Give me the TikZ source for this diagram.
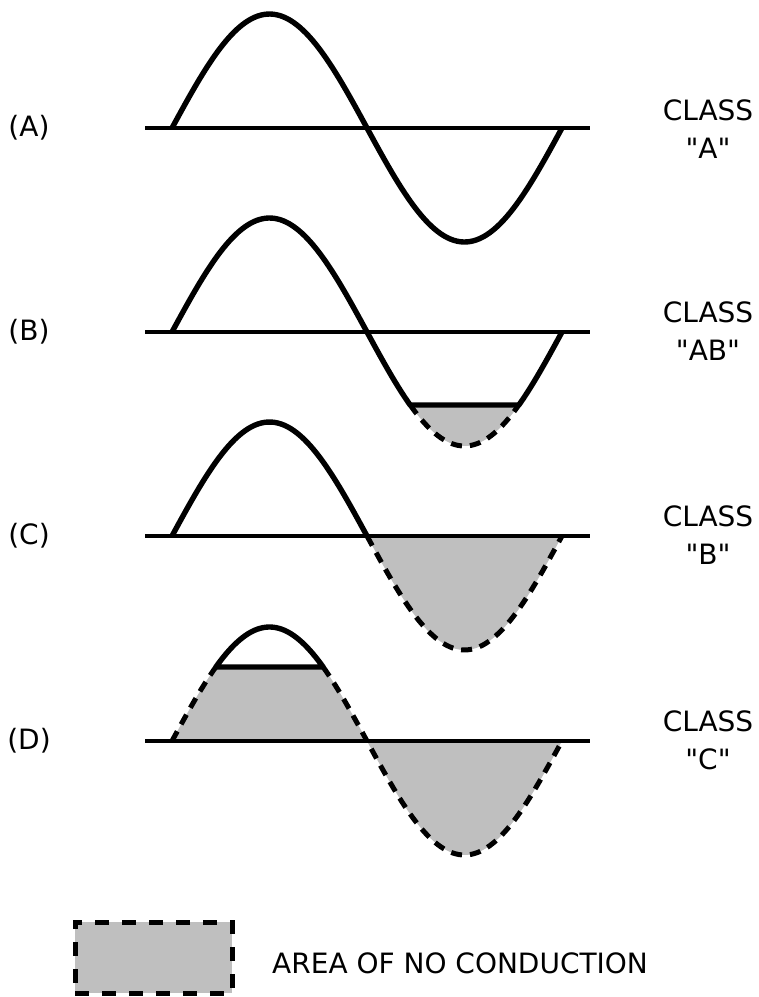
\documentclass[tikz,border=0pt]{standalone}
\usepackage{fontspec}
\setmainfont{DejaVu Sans}
\newfontfamily\labelfont{DejaVu Sans}
\begin{document}
\begin{tikzpicture}[x=1pt,y=-1pt,
  wave/.style={line width=5.4pt, line join=round},
  axisline/.style={line width=3.4pt},
  nocond/.style={line width=5pt, dash pattern=on 11pt off 8pt},
  shade/.style={fill=black!25},
  lbl/.style={font=\labelfont\fontsize{28}{32}\selectfont, inner sep=0pt},
  keybox/.style={fill=black!25, draw=black, line width=5pt, dash pattern=on 14pt off 13pt, minimum width=157pt, minimum height=71pt, inner sep=0pt},
]
\useasboundingbox (0,0) rectangle (759,997);

% ---------- (A) ----------
\begin{scope}[shift={(0,128)}]
  \draw[axisline] (145,0) -- (590,0);
  \draw[wave] plot[domain=0:360,samples=120] ({172+\x*1.08333},{-114*sin(\x)});
\end{scope}

% ---------- (B) ----------
\begin{scope}[shift={(0,332)}]
  \fill[shade] plot[domain=219.8:320.2,samples=40] ({172+\x*1.08333},{-114*sin(\x)}) -- cycle;
  \draw[axisline] (145,0) -- (590,0);
  \draw[wave] plot[domain=0:219.8,samples=80] ({172+\x*1.08333},{-114*sin(\x)})
     -- plot[domain=320.2:360,samples=20] ({172+\x*1.08333},{-114*sin(\x)});
  \draw[nocond] plot[domain=219.8:320.2,samples=40] ({172+\x*1.08333},{-114*sin(\x)});
\end{scope}

% ---------- (C) ----------
\begin{scope}[shift={(0,536)}]
  \fill[shade] plot[domain=180:360,samples=60] ({172+\x*1.08333},{-114*sin(\x)}) -- cycle;
  \draw[axisline] (145,0) -- (590,0);
  \draw[wave] plot[domain=0:180,samples=60] ({172+\x*1.08333},{-114*sin(\x)});
  \draw[nocond] plot[domain=180:360,samples=60] ({172+\x*1.08333},{-114*sin(\x)});
\end{scope}

% ---------- (D) ----------
\begin{scope}[shift={(0,741)}]
  \fill[shade] plot[domain=0:40.5,samples=20] ({172+\x*1.08333},{-114*sin(\x)})
     -- plot[domain=139.5:180,samples=20] ({172+\x*1.08333},{-114*sin(\x)}) -- cycle;
  \fill[shade] plot[domain=180:360,samples=60] ({172+\x*1.08333},{-114*sin(\x)}) -- cycle;
  \draw[axisline] (145,0) -- (590,0);
  \draw[wave] plot[domain=40.5:139.5,samples=40] ({172+\x*1.08333},{-114*sin(\x)}) -- cycle;
  \draw[nocond] plot[domain=0:40.5,samples=20] ({172+\x*1.08333},{-114*sin(\x)});
  \draw[nocond] plot[domain=139.5:360,samples=80] ({172+\x*1.08333},{-114*sin(\x)});
\end{scope}

% ---------- labels ----------
\node[lbl] (la) at (29,128) {(A)};
\node[lbl] (lb) at (29,332) {(B)};
\node[lbl] (lc) at (29,536) {(C)};
\node[lbl] (ld) at (29,741) {(D)};

\node[lbl, anchor=base] (ca1) at (708,120) {CLASS};
\node[lbl, anchor=base] (ca2) at (708,158) {"A"};
\node[lbl, anchor=base] (cb1) at (708,322) {CLASS};
\node[lbl, anchor=base] (cb2) at (708,360) {"AB"};
\node[lbl, anchor=base] (cc1) at (708,526) {CLASS};
\node[lbl, anchor=base] (cc2) at (708,564) {"B"};
\node[lbl, anchor=base] (cd1) at (708,731) {CLASS};
\node[lbl, anchor=base] (cd2) at (708,769) {"C"};

% ---------- legend ----------
\node[keybox] (key) at (153.5,957.5) {};
\node[lbl, anchor=base west] (keytext) at (272,973) {AREA OF NO CONDUCTION};
\end{tikzpicture}
\end{document}
